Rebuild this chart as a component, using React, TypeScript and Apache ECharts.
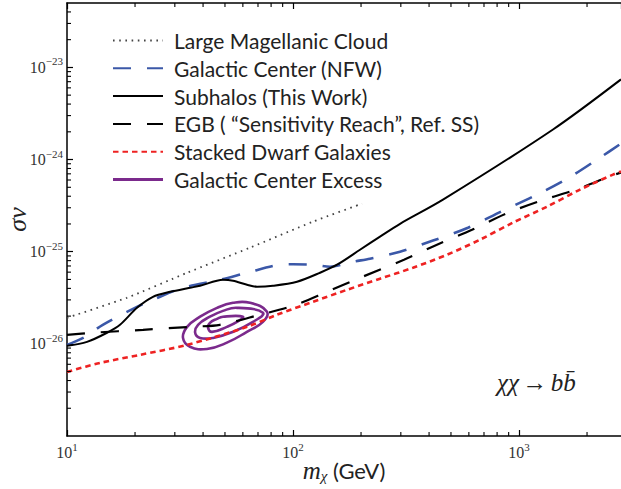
import React, { useEffect, useRef } from 'react';
import * as echarts from 'echarts';

// Axis ranges (GeV on x, cm^3/s on y)
const X_MIN = 10;
const X_MAX = 2827;
const Y_MIN = 1e-27;
const Y_MAX = 5e-23;

// Large Magellanic Cloud limit
const lmcMass = [10, 18.4, 34.0, 64.5, 122.6, 202];
const lmcSigmaV = [1.92e-26, 3.16e-26, 5.91e-26, 1.105e-25, 2.12e-25, 3.32e-25];

// Galactic Center (NFW) limit
const gcMass = [10, 12, 14.4, 20.4, 24, 32.6, 47.5, 62.6, 87.6, 100, 122.6, 145.8, 184.3, 219, 297.6, 416.5, 594.5, 832.6, 1177, 1664, 2282, 2827];
const gcSigmaV = [9.75e-27, 1.19e-26, 1.61e-26, 2.52e-26, 3.01e-26, 4.06e-26, 4.96e-26, 5.91e-26, 7.22e-26, 7.3e-26, 7.22e-26, 6.87e-26, 7.78e-26, 8.39e-26, 1.0e-25, 1.32e-25, 1.82e-25, 2.72e-25, 4.06e-25, 6.37e-25, 1.05e-24, 1.49e-24];

// Subhalos (this work)
const subMass = [10, 12.26, 15.03, 17.16, 20.4, 24.0, 28.6, 35.0, 38.8, 49.0, 54.3, 62.6, 69.3, 81.5, 104.2, 131.7, 156.6, 197.9, 242.7, 297.6, 461, 1414, 2827];
const subSigmaV = [9.51e-27, 1.05e-26, 1.32e-26, 1.61e-26, 2.46e-26, 3.24e-26, 3.67e-26, 4.06e-26, 4.27e-26, 4.96e-26, 4.84e-26, 4.38e-26, 4.17e-26, 4.27e-26, 4.72e-26, 5.91e-26, 7.22e-26, 1.05e-25, 1.46e-25, 2.01e-25, 3.67e-25, 2.12e-24, 7.41e-24];

// EGB sensitivity reach
const egbMass = [10, 13.0, 21.7, 35.0, 47.5, 71.5, 100, 141.4, 197.9, 309.7, 433.6, 619.4, 876, 1251, 1787, 2579, 2827];
const egbSigmaV = [1.25e-26, 1.32e-26, 1.42e-26, 1.53e-26, 1.61e-26, 2.07e-26, 2.59e-26, 3.67e-26, 5.21e-26, 8.18e-26, 1.19e-25, 1.73e-25, 2.59e-25, 3.58e-25, 4.72e-25, 6.70e-25, 7.22e-25];

// Stacked dwarf galaxies
const dwarfMass = [10, 14.0, 21.0, 34.0, 62.6, 84.9, 122.6, 173.4, 242.7, 339.6, 480, 672, 941, 1330, 1862, 2606, 2827];
const dwarfSigmaV = [4.96e-27, 6.21e-27, 7.59e-27, 9.75e-27, 1.53e-26, 2.07e-26, 2.86e-26, 3.86e-26, 5.09e-26, 6.70e-26, 9.27e-26, 1.35e-25, 2.07e-25, 3.08e-25, 4.72e-25, 6.87e-25, 7.41e-25];

// Galactic Center Excess contours (outer, middle, inner)
const gceOuterMass = [64.5, 76.7, 73.6, 62.5, 51.0, 41.6, 35.0, 32.6, 34.0, 38.8, 46.1, 54.3];
const gceOuterSigmaV = [2.79e-26, 2.23e-26, 1.73e-26, 1.35e-26, 1.03e-26, 8.8e-27, 9.3e-27, 1.16e-26, 1.53e-26, 1.97e-26, 2.46e-26, 2.79e-26];
const gceMiddleMass = [56.5, 73.6, 66.5, 54.3, 44.3, 38.8, 36.9, 38.0, 42.9, 49.0];
const gceMiddleSigmaV = [2.46e-26, 2.17e-26, 1.73e-26, 1.35e-26, 1.16e-26, 1.16e-26, 1.32e-26, 1.61e-26, 1.97e-26, 2.28e-26];
const gceInnerMass = [49.0, 60.0, 56.5, 51.0, 43.8, 42.1, 42.9, 46.1];
const gceInnerSigmaV = [1.97e-26, 1.97e-26, 1.73e-26, 1.53e-26, 1.35e-26, 1.49e-26, 1.69e-26, 1.87e-26];

const legendNames = [
  'Large Magellanic Cloud',
  'Galactic Center (NFW)',
  'Subhalos (This Work)',
  'EGB ( \u201CSensitivity Reach\u201D, Ref. SS)',
  'Stacked Dwarf Galaxies',
  'Galactic Center Excess',
];

const zip = (xs: number[], ys: number[]) => xs.map((x, i) => [x, ys[i]]);

const contours = [
  zip(gceOuterMass, gceOuterSigmaV),
  zip(gceMiddleMass, gceMiddleSigmaV),
  zip(gceInnerMass, gceInnerSigmaV),
];

// Minor (2..9 x 10^n) tick values inside the axis ranges
const minorTicks = (lo: number, hi: number) => {
  const out: number[] = [];
  for (let e = Math.floor(Math.log10(lo)); e <= Math.ceil(Math.log10(hi)); e++) {
    for (let k = 2; k <= 9; k++) {
      const v = k * Math.pow(10, e);
      if (v > lo * 1.0001 && v < hi * 0.9999) out.push(v);
    }
  }
  return out;
};
const xMinor = minorTicks(X_MIN, X_MAX);
const yMinor = minorTicks(Y_MIN, Y_MAX);

const SERIF = '"Liberation Serif", "DejaVu Serif", serif';
const SANS = 'Lato, "Open Sans", sans-serif';

const powLabel = (v: number) => {
  const e = Math.log10(v);
  const r = Math.round(e);
  if (Math.abs(e - r) > 1e-6) return '';
  return `{base|10}{sup|${r < 0 ? '\u2212' + -r : r}}`;
};

const labelRich = {
  base: { fontFamily: SERIF, fontSize: 16, color: '#333' },
  sup: { fontFamily: SERIF, fontSize: 11, color: '#333', padding: [0, 0, 12, 0] },
};

const PURPLE = '#7b2a8c';

export default function App() {
  const ref = useRef<HTMLDivElement>(null);

  useEffect(() => {
    const chart = echarts.init(ref.current!, null, { renderer: 'svg' });

    const lineSeries = (name: string, xs: number[], ys: number[], color: string, width: number, type: any, smooth = 0.3) => ({
      name,
      type: 'line',
      xAxisIndex: 0,
      yAxisIndex: 0,
      data: zip(xs, ys),
      symbol: 'none',
      showSymbol: false,
      smooth,
      silent: true,
      itemStyle: { color },
      lineStyle: { color, width, type, cap: 'butt' },
    });

    const axisLabel = (margin: number) => ({
      formatter: powLabel,
      rich: labelRich,
      fontFamily: SERIF,
      fontSize: 16,
      color: '#333',
      margin,
      showMaxLabel: false,
    });

    chart.setOption({
      animation: false,
      backgroundColor: '#fff',
      grid: { left: 67, top: 3, right: 0, bottom: 53, containLabel: false, outerBoundsMode: 'none' },
      legend: {
        orient: 'vertical',
        left: 107,
        top: 25,
        itemWidth: 50,
        itemHeight: 20,
        itemGap: 6.8,
        selectedMode: false,
        itemStyle: { opacity: 0 },
        textStyle: { fontFamily: SANS, fontSize: 21, color: '#222', padding: [0, 0, 0, 6] },
        data: legendNames.map((n) =>
          n === 'Galactic Center Excess'
            ? { name: n, icon: 'path://M0 0H50V3H0Z', itemStyle: { color: PURPLE, opacity: 1 } }
            : { name: n }
        ),
      },
      xAxis: [
        {
          type: 'log',
          logBase: 10,
          min: X_MIN,
          max: X_MAX,
          gridIndex: 0,
          axisLine: { show: true, lineStyle: { color: '#000', width: 1.5 } },
          axisTick: { show: true, inside: true, length: 6, lineStyle: { color: '#000', width: 1.2 } },
          axisLabel: axisLabel(5),
          splitLine: { show: false },
          name: '{m|m}{s|\u03C7}{g| (GeV)}',
          nameLocation: 'middle',
          nameGap: 22,
          nameMoveOverlap: false,
          nameTextStyle: {
            rich: {
              m: { fontFamily: SERIF, fontStyle: 'italic', fontSize: 25, color: '#222' },
              s: { fontFamily: SERIF, fontStyle: 'italic', fontSize: 15, color: '#222', padding: [10, 0, 0, 0] },
              g: { fontFamily: SANS, fontSize: 22, color: '#222' },
            },
          },
        },
        {
          type: 'log',
          logBase: 10,
          min: X_MIN,
          max: X_MAX,
          gridIndex: 0,
          position: 'top',
          axisLine: { show: true, lineStyle: { color: '#000', width: 1.5 } },
          axisTick: { show: true, inside: true, length: 6, lineStyle: { color: '#000', width: 1.2 } },
          axisLabel: { show: false },
          splitLine: { show: false },
        },
      ],
      yAxis: {
        type: 'log',
        logBase: 10,
        min: Y_MIN,
        max: Y_MAX,
        gridIndex: 0,
        axisLine: { show: true, lineStyle: { color: '#000', width: 1.5 } },
        axisTick: { show: true, inside: true, length: 6, lineStyle: { color: '#000', width: 1.2 } },
        axisLabel: axisLabel(4),
        splitLine: { show: false },
        name: '\u03C3v',
        nameLocation: 'middle',
        nameRotate: 90,
        nameGap: 37,
        nameMoveOverlap: false,
        nameTextStyle: { fontFamily: SERIF, fontStyle: 'italic', fontSize: 26, color: '#222' },
      },
      graphic: [
        {
          type: 'text',
          x: 497,
          y: 370,
          silent: true,
          style: {
            text: '{i|\u03C7\u03C7} {a|\u2192} {i|bb\u0304}',
            rich: {
              i: { fontFamily: SERIF, fontStyle: 'italic', fontSize: 25, fill: '#222' },
              a: { fontFamily: SERIF, fontSize: 25, fill: '#222' },
            },
          },
        },
      ],
      series: [
        lineSeries(legendNames[0], lmcMass, lmcSigmaV, '#444', 1.8, [1.6, 4.6], 0.2),
        lineSeries(legendNames[1], gcMass, gcSigmaV, '#3b58a8', 2.6, [18, 16]),
        lineSeries(legendNames[2], subMass, subSigmaV, '#000', 2, 'solid'),
        lineSeries(legendNames[3], egbMass, egbSigmaV, '#000', 2.2, [18, 16]),
        lineSeries(legendNames[4], dwarfMass, dwarfSigmaV, '#ee2222', 2.6, [5.5, 4]),
        {
          name: legendNames[5],
          type: 'custom',
          xAxisIndex: 0,
          yAxisIndex: 0,
          silent: true,
          itemStyle: { color: PURPLE },
          data: contours.map((c) => c[0]),
          renderItem: (params: any, api: any) => {
            const pts = contours[params.dataIndex].map((p) => api.coord(p));
            return {
              type: 'polygon',
              shape: { points: pts, smooth: 0.45 },
              style: { fill: 'none', stroke: PURPLE, lineWidth: 2.6 },
            };
          },
        },
        {
          type: 'custom',
          xAxisIndex: 0,
          yAxisIndex: 0,
          silent: true,
          clip: false,
          z: 10,
          encode: { x: 0, y: 1 },
          data: xMinor.map((v) => [v, Y_MIN]),
          renderItem: (params: any, api: any) => {
            const v = xMinor[params.dataIndex];
            const b = api.coord([v, Y_MIN]);
            const t = api.coord([v, Y_MAX]);
            const st = { stroke: '#000', lineWidth: 1.1, fill: 'none' };
            return {
              type: 'group',
              children: [
                { type: 'line', shape: { x1: b[0], y1: b[1], x2: b[0], y2: b[1] - 4 }, style: st },
                { type: 'line', shape: { x1: t[0], y1: t[1], x2: t[0], y2: t[1] + 4 }, style: st },
              ],
            };
          },
        },
        {
          type: 'custom',
          xAxisIndex: 0,
          yAxisIndex: 0,
          silent: true,
          clip: false,
          z: 10,
          encode: { x: 0, y: 1 },
          data: yMinor.map((v) => [X_MIN, v]),
          renderItem: (params: any, api: any) => {
            const v = yMinor[params.dataIndex];
            const p = api.coord([X_MIN, v]);
            return {
              type: 'line',
              shape: { x1: p[0], y1: p[1], x2: p[0] + 4, y2: p[1] },
              style: { stroke: '#000', lineWidth: 1.1, fill: 'none' },
            };
          },
        },
      ],
    });

    return () => chart.dispose();
  }, []);

  return (
    <div
      ref={ref}
      style={{ position: 'fixed', left: 0, top: 0, width: 621, height: 489, background: '#fff' }}
    />
  );
}
